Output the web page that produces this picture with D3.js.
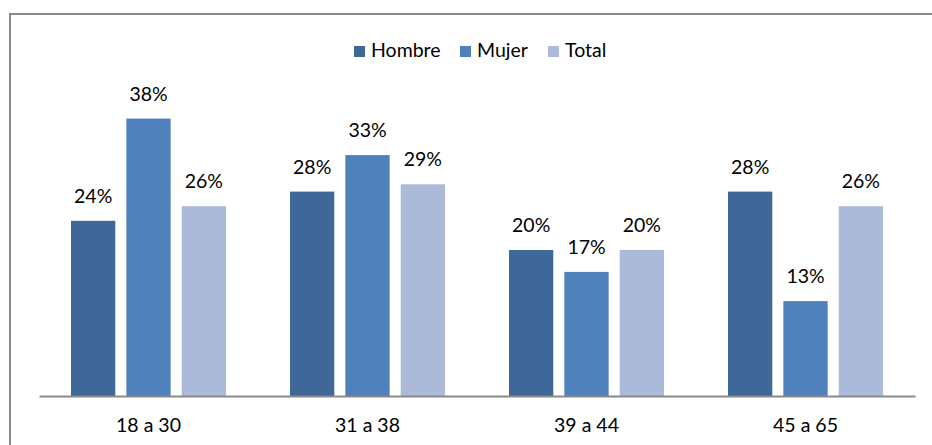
<!DOCTYPE html>
<html>
<head>
<meta charset="utf-8">
<script src="https://cdn.jsdelivr.net/npm/d3@7"></script>
<style>
  html, body { margin: 0; padding: 0; background: #fff; }
  svg { display: block; }
  text { font-family: Lato, "Open Sans", sans-serif; fill: #000; }
</style>
</head>
<body>
<svg id="chart" width="932" height="445"></svg>
<script>
// Age groups and the share of each group by sex (percent)
const categories = ["18 a 30", "31 a 38", "39 a 44", "45 a 65"];
const series = ["Hombre", "Mujer", "Total"];
const hombre = [24, 28, 20, 28];
const mujer = [38, 33, 17, 13];
const total = [26, 29, 20, 26];
const colors = ["#3F6899", "#4F81BD", "#AABAD8"];

const values = [hombre, mujer, total];
const svg = d3.select("#chart");
const FONT = 19.5;

// Outer frame (extends past the right and bottom edges)
svg.append("rect")
  .attr("x", 10).attr("y", 14)
  .attr("width", 940).attr("height", 460)
  .attr("fill", "none").attr("stroke", "#898989").attr("stroke-width", 2);

const plot = { left: 39, right: 915, top: 104, bottom: 396 };

const x0 = d3.scaleBand().domain(categories)
  .range([plot.left, plot.right]).paddingInner(0).paddingOuter(0);
const x1 = d3.scaleBand().domain(series)
  .range([32, 187]).paddingInner(0.2).paddingOuter(0);
const y = d3.scaleLinear().domain([0, 40]).range([plot.bottom, plot.top]);

const groups = svg.append("g").selectAll("g")
  .data(categories)
  .join("g")
  .attr("transform", d => `translate(${x0(d)},0)`);

groups.selectAll("rect")
  .data((c, i) => series.map((s, k) => ({ s, k, v: values[k][i] })))
  .join("rect")
  .attr("x", d => x1(d.s))
  .attr("y", d => y(d.v))
  .attr("width", x1.bandwidth())
  .attr("height", d => y(0) - y(d.v))
  .attr("fill", d => colors[d.k]);

groups.selectAll("text.val")
  .data((c, i) => series.map((s, k) => ({ s, k, v: values[k][i] })))
  .join("text")
  .attr("class", "val")
  .attr("x", d => x1(d.s) + x1.bandwidth() / 2)
  .attr("y", d => y(d.v) - 18)
  .attr("text-anchor", "middle")
  .attr("font-size", FONT)
  .text(d => d.v + "%");

// Category axis
const xAxis = svg.append("g")
  .attr("transform", `translate(0,${plot.bottom})`)
  .call(d3.axisBottom(x0).tickSize(0).tickPadding(0));
xAxis.select(".domain").attr("stroke", "#898989").attr("stroke-width", 2);
xAxis.selectAll("text")
  .attr("y", 36).attr("dy", 0)
  .attr("font-size", FONT)
  .style("font-family", "Lato, 'Open Sans', sans-serif").attr("fill", "#000");

// Legend
const legendX = [354, 460, 548];
const legend = svg.append("g").selectAll("g")
  .data(series)
  .join("g")
  .attr("transform", (d, i) => `translate(${legendX[i]},46)`);
legend.append("rect")
  .attr("width", 11).attr("height", 11)
  .attr("fill", (d, i) => colors[i]);
legend.append("text")
  .attr("x", 17).attr("y", 11)
  .attr("font-size", FONT)
  .text(d => d);
</script>
</body>
</html>
